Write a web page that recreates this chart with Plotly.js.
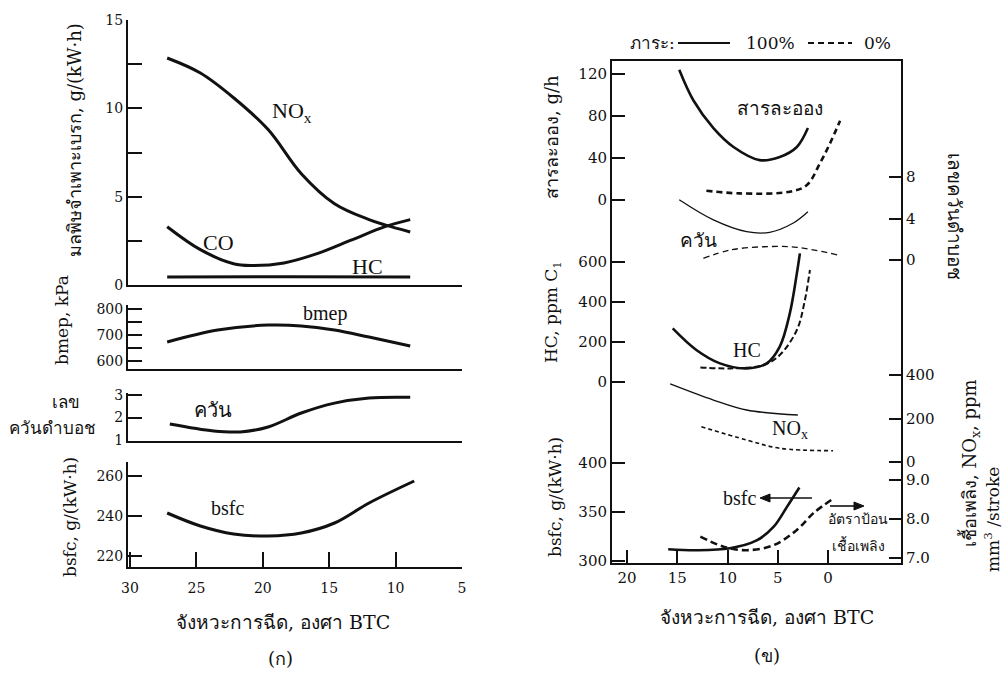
<!DOCTYPE html>
<html><head><meta charset="utf-8">
<script src="https://cdn.plot.ly/plotly-3.0.1.min.js"></script>
<style>html,body{margin:0;padding:0;background:#fff}#c{width:1004px;height:673px}</style>
</head><body><div id="c"></div>
<script>
// ---------- Panel (ก): injection timing, deg BTC ----------
const L_timing = [27.2, 24.7, 22.2, 19.6, 17.1, 14.6, 12.0, 10.8, 8.9];
const L_nox    = [12.85, 12.0, 10.6, 8.8, 6.3, 4.6, 3.7, 3.4, 3.0];
const L_co_t   = [27.2, 24.7, 22.2, 20.9, 18.4, 15.8, 13.3, 10.8, 8.9];
const L_co     = [3.3, 2.0, 1.2, 1.1, 1.25, 1.8, 2.55, 3.3, 3.7];
const L_hc_t   = [27.2, 18.0, 8.9];
const L_hc     = [0.45, 0.47, 0.45];
const L_bmep_t = [27.2, 23.4, 19.6, 17.1, 14.6, 12.0, 8.9];
const L_bmep   = [673, 719, 738, 735, 719, 692, 658];
const L_smoke_t= [27.0, 23.7, 21.7, 19.6, 17.1, 14.6, 12.0, 8.9];
const L_smoke  = [1.71, 1.4, 1.36, 1.58, 2.2, 2.64, 2.87, 2.9];
const L_bsfc_t = [27.2, 24.7, 22.2, 19.6, 17.1, 14.6, 12.0, 8.6];
const L_bsfc   = [241.5, 235, 231, 230, 231.5, 236.5, 246.5, 257.5];

// ---------- Panel (ข): solid = 100% load, dashed = 0% load ----------
const R_part100_t = [14.8, 13.4, 11.4, 9.4, 6.8, 4.8, 3.1, 2.0];
const R_part100   = [124, 95, 68.5, 50.5, 38, 41, 50.5, 68.5];
const R_part0_t   = [12.1, 8.8, 3.8, 2.1, 0.8, -0.2, -1.2];
const R_part0     = [8.9, 6.3, 7.9, 14.3, 35, 54, 75.5];
const R_smoke100_t= [14.8, 11.4, 8.1, 5.8, 3.5, 2.0];
const R_smoke100  = [5.8, 3.86, 2.73, 2.67, 3.54, 4.66];
const R_smoke0_t  = [12.4, 9.75, 6.4, 3.1, -1.0];
const R_smoke0    = [0.16, 0.96, 1.28, 1.22, 0.48];
const R_hc100_t   = [15.45, 13.1, 10.75, 8.1, 6.1, 4.8, 3.8, 3.1, 2.8];
const R_hc100     = [268, 160, 93, 68, 93, 177, 343, 543, 643];
const R_hc0_t     = [12.7, 9.75, 6.4, 4.8, 3.1, 2.3, 1.8];
const R_hc0       = [73, 68, 85, 135, 260, 410, 560];
const R_nox100_t  = [15.7, 11.4, 8.1, 3.0];
const R_nox100    = [359, 285, 239, 216];
const R_nox0_t    = [12.6, 8.1, 4.8, -0.5];
const R_nox0      = [162, 101, 63, 52];
const R_bsfc100_t = [15.9, 13.1, 9.75, 7.1, 5.4, 4.1, 2.85];
const R_bsfc100   = [312, 311, 313, 321, 335, 355, 375];
const R_fuel0_t   = [12.7, 10.4, 8.1, 5.4, 3.1, 1.45, -0.4];
const R_fuel0     = [7.55, 7.29, 7.2, 7.33, 7.72, 8.15, 8.5];

// tick labels
const L_xticks = [30, 25, 20, 15, 10, 5];
const R_xticks = [20, 15, 10, 5, 0];

const W = 1004, H = 673;
const px = x => x / W, py = y => 1 - y / H;
const FONT = "'DejaVu Serif', 'Liberation Serif', serif";
const LFONT = "'Liberation Serif', 'DejaVu Serif', serif";
const K = '#111';

function line(x, y, xa, ya, width, dash) {
  return {x: x, y: y, xaxis: xa, yaxis: ya, type: 'scatter', mode: 'lines',
    line: {color: K, width: width, dash: dash || 'solid', shape: 'spline', smoothing: 1.0},
    hoverinfo: 'skip', showlegend: false};
}

const traces = [
  line(L_timing, L_nox, 'x', 'y', 3),
  line(L_co_t, L_co, 'x', 'y', 3),
  line(L_hc_t, L_hc, 'x', 'y', 3),
  line(L_bmep_t, L_bmep, 'x2', 'y2', 3),
  line(L_smoke_t, L_smoke, 'x3', 'y3', 3),
  line(L_bsfc_t, L_bsfc, 'x4', 'y4', 3),
  line(R_part100_t, R_part100, 'x5', 'y5', 2.6),
  line(R_part0_t, R_part0, 'x5', 'y5', 2.6, '6px,4px'),
  line(R_smoke100_t, R_smoke100, 'x5', 'y8', 1.3),
  line(R_smoke0_t, R_smoke0, 'x5', 'y8', 1.3, '6px,4px'),
  line(R_hc100_t, R_hc100, 'x5', 'y6', 2.6),
  line(R_hc0_t, R_hc0, 'x5', 'y6', 2.0, '6px,3px'),
  line(R_nox100_t, R_nox100, 'x5', 'y9', 1.3),
  line(R_nox0_t, R_nox0, 'x5', 'y9', 1.6, '4px,3px'),
  line(R_bsfc100_t, R_bsfc100, 'x5', 'y7', 2.6),
  line(R_fuel0_t, R_fuel0, 'x5', 'y10', 2.6, '7px,4px'),
];

const tfL = {family: FONT, size: 14, color: K};
const tfR = {family: FONT, size: 15, color: K};
function xa(d0, d1, range, anchor, extra) {
  return Object.assign({domain: [px(d0), px(d1)], range: range, anchor: anchor,
    showline: true, linewidth: 2, linecolor: K, showgrid: false, zeroline: false,
    ticks: '', showticklabels: false, fixedrange: true}, extra || {});
}
function ya(top, bottom, range, anchor, tickvals, minorvals, extra) {
  const o = {domain: [py(bottom), py(top)], range: range, anchor: anchor,
    showline: true, linewidth: 2, linecolor: K, showgrid: false, zeroline: false,
    ticks: 'inside', ticklen: 14, tickwidth: 2, tickcolor: K,
    tickmode: 'array', tickvals: tickvals, tickfont: tfL, fixedrange: true};
  if (minorvals) o.minor = {tickmode: 'array', tickvals: minorvals, ticks: 'inside', ticklen: 14, tickwidth: 2, tickcolor: K, showgrid: false};
  return Object.assign(o, extra || {});
}

const layout = {
  width: W, height: H, margin: {l: 0, r: 0, t: 0, b: 0},
  paper_bgcolor: '#fff', plot_bgcolor: 'rgba(0,0,0,0)',
  font: {family: FONT, color: K},
  showlegend: false,
  xaxis:  xa(128, 462, [30.15, 5], 'y'),
  xaxis2: xa(128, 462, [30.15, 5], 'y2'),
  xaxis3: xa(128, 462, [30.15, 5], 'y3'),
  xaxis4: xa(128, 462, [30.15, 5], 'y4', {ticks: 'inside', ticklen: 15, tickwidth: 2, tickcolor: K,
           showticklabels: true, tickmode: 'array', tickvals: L_xticks, tickfont: tfL, ticklabelstandoff: 7}),
  yaxis:  ya(20, 285, [0, 15], 'x', [0, 5, 10, 15], [2.5, 7.5, 12.5]),
  yaxis2: ya(305, 369, [569.2, 815.4], 'x2', [600, 700, 800], [650, 750]),
  yaxis3: ya(393, 441, [0.956, 3.09], 'x3', [1, 2, 3]),
  yaxis4: ya(462, 567, [214.5, 267], 'x4', [220, 240, 260]),
  xaxis5: xa(612, 901, [21.49, -7.26], 'y5', {mirror: true, ticks: 'inside', ticklen: 13, tickwidth: 2,
           tickcolor: K, showticklabels: true, tickmode: 'array', tickvals: R_xticks, tickfont: tfR}),
  yaxis5: ya(61, 563, [-345.7, 132.4], 'x5', [0, 40, 80, 120], null, {ticklen: 13, tickfont: tfR}),
  yaxis6: ya(61, 563, [-905, 1605], 'x5', [0, 200, 400, 600], null, {overlaying: 'y5', ticklen: 13, tickfont: tfR}),
  yaxis7: ya(61, 563, [298, 810.2], 'x5', [300, 350, 400], null, {overlaying: 'y5', ticklen: 13, tickfont: tfR}),
  yaxis8: ya(61, 563, [-29.2, 19.18], 'x5', [0, 4, 8], null, {overlaying: 'y5', side: 'right', ticklen: 12, tickfont: tfR}),
  yaxis9: ya(61, 563, [-464.4, 1843.7], 'x5', [0, 200, 400], null, {overlaying: 'y5', side: 'right', ticklen: 12, tickfont: tfR}),
  yaxis10: ya(61, 563, [6.872, 19.74], 'x5', [7, 8, 9], null, {overlaying: 'y5', side: 'right', ticklen: 12, tickfont: tfR, tickformat: '.1f'}),
  annotations: [],
  shapes: []
};

function T(text, x, y, size, opts) {
  layout.annotations.push(Object.assign({text: text, x: px(x), y: py(y), xref: 'paper', yref: 'paper',
    showarrow: false, font: {family: FONT, size: size, color: K}, xanchor: 'center', yanchor: 'middle'}, opts || {}));
}
const lf = s => ({font: {family: LFONT, size: s, color: K}});
// Left panel labels
T('NO<sub>x</sub>', 292, 112, 22, lf(22));
T('CO', 218, 242, 22, lf(22));
T('HC', 367, 267, 22, lf(22));
T('bmep', 325, 313, 20, lf(20));
T('ควัน', 213, 410, 20);
T('bsfc', 227, 508, 20, lf(20));
T('มลพิษจำเพาะเบรก, g/(kW·h)', 74, 140, 18, {textangle: -90});
T('bmep, kPa', 62, 320, 17, {textangle: -90});
T('เลข', 66, 402, 17);
T('ควันดำบอช', 52, 428, 17);
T('bsfc, g/(kW·h)', 70, 517, 17, {textangle: -90});
T('จังหวะการฉีด, องศา BTC', 283, 622, 19);
T('(ก)', 280, 658, 18);
// Right panel labels
T('สารละออง', 780, 108, 19);
T('ควัน', 698, 240, 19);
T('HC', 747, 350, 20, lf(20));
T('NO<sub>x</sub>', 790, 430, 20, lf(20));
T('bsfc', 737, 498, 20, Object.assign({xanchor: 'right', x: px(758)}, lf(20)));
T('อัตราป้อน', 858, 519, 14);
T('เชื้อเพลิง', 858, 545, 14);
T('สารละออง, g/h', 552, 137, 18, {textangle: -90});
T('HC, ppm C<sub>1</sub>', 552, 312, 17, {textangle: -90});
T('bsfc, g/(kW·h)', 555, 497, 17, {textangle: -90});
T('เลขควันดำบอช', 955, 216, 19, {textangle: 90});
T('เชื้อเพลิง, NO<sub>x</sub>, ppm', 970, 463, 18, {textangle: -90});
T('mm<sup>3</sup> /stroke', 992, 520, 17, {textangle: -90});
T('จังหวะการฉีด, องศา BTC', 767, 617, 19);
T('(ข)', 767, 655, 18);
// load legend
T('ภาระ:', 652, 43, 17);
T('100%', 770, 43, 17);
T('0%', 877, 43, 17);
function seg(x0, y0, x1, y1, w, dash) {
  layout.shapes.push({type: 'line', xref: 'paper', yref: 'paper', x0: px(x0), x1: px(x1), y0: py(y0), y1: py(y1),
    line: {color: K, width: w, dash: dash || 'solid'}});
}
function tri(pts) {
  const d = 'M' + pts.map(p => px(p[0]) + ',' + py(p[1])).join('L') + 'Z';
  layout.shapes.push({type: 'path', xref: 'paper', yref: 'paper', path: d, fillcolor: K, line: {color: K, width: 1}});
}
seg(678, 43, 730, 43, 2);
seg(808, 43, 852, 43, 2, '6px,4px');
// bsfc arrow (pointing left) and fuel-rate arrow (pointing right)
seg(768, 498, 812, 498, 1.6);
tri([[760, 498], [770, 494], [770, 502]]);
seg(830, 506, 856, 506, 1.6);
tri([[864, 506], [854, 502], [854, 510]]);

Plotly.newPlot('c', traces, layout, {staticPlot: true, displayModeBar: false});
</script></body></html>
